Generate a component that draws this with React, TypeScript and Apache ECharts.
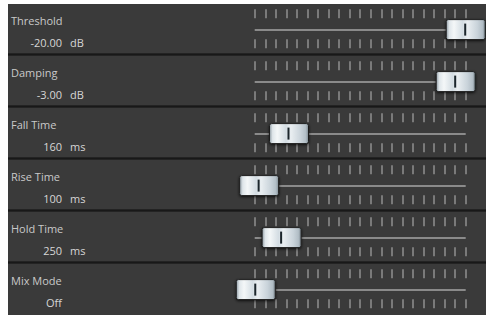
import React, { useEffect, useRef } from "react";
import * as echarts from "echarts";

const labels = ["Threshold", "Damping", "Fall Time", "Rise Time", "Hold Time", "Mix Mode"];
const valueTexts = ["-20.00", "-3.00", "160", "100", "250", "Off"];
const units = ["dB", "dB", "ms", "ms", "ms", ""];
// slider knob position, in tick units (scale has 21 ticks: 0..20)
const sliderPositions = [20, 19.05, 3.25, 0.42, 2.55, 0.1];
const tickMin = 0;
const tickMax = 20;

const W = 486;
const H = 315;
const PANEL_X = 8;
const PANEL_Y = 4;
const ROW_PITCH = 52;
const SLIDER_LEFT = 254.7;
const SLIDER_RIGHT = 465.7;

export default function App() {
  const ref = useRef<HTMLDivElement>(null);
  useEffect(() => {
    document.body.style.margin = "0";
    const chart = echarts.init(ref.current!, null, { renderer: "svg" });
    const grids: any[] = [];
    const xAxes: any[] = [];
    const yAxes: any[] = [];
    const series: any[] = [];
    const graphics: any[] = [];

    graphics.push({
      type: "rect",
      shape: { x: PANEL_X, y: PANEL_Y, width: W - PANEL_X, height: H - PANEL_Y },
      style: { fill: "#3a3a3a" },
      silent: true,
    });

    labels.forEach((label, i) => {
      const rowTop = PANEL_Y + ROW_PITCH * i;
      if (i > 0) {
        graphics.push({
          type: "rect",
          shape: { x: PANEL_X, y: rowTop - 3, width: W - PANEL_X, height: 3 },
          style: { fill: "#232323" },
          silent: true,
        });
        graphics.push({
          type: "rect",
          shape: { x: PANEL_X, y: rowTop - 2, width: W - PANEL_X, height: 1 },
          style: { fill: "#181818" },
          silent: true,
        });
      }
      graphics.push({
        type: "text",
        x: 11,
        y: rowTop + 16,
        style: {
          text: label,
          fill: "#c9c9c9",
          font: "11px 'Open Sans'",
          verticalAlign: "middle",
          align: "left",
        },
      });
      graphics.push({
        type: "text",
        x: 62,
        y: rowTop + 38,
        style: {
          text: valueTexts[i],
          fill: "#d6d6d6",
          font: "11px 'Open Sans'",
          verticalAlign: "middle",
          align: "right",
        },
      });
      if (units[i]) {
        graphics.push({
          type: "text",
          x: 70,
          y: rowTop + 38,
          style: {
            text: units[i],
            fill: "#d6d6d6",
            font: "11px 'Open Sans'",
            verticalAlign: "middle",
            align: "left",
          },
        });
      }

      grids.push({
        left: SLIDER_LEFT,
        width: SLIDER_RIGHT - SLIDER_LEFT,
        top: rowTop + 5.3,
        height: 39,
      });
      const axisBase = {
        type: "value",
        gridIndex: i,
        min: tickMin,
        max: tickMax,
        interval: 1,
        axisLine: { show: false },
        axisLabel: { show: false },
        splitLine: { show: false },
        axisTick: { show: true, inside: true, length: 9, lineStyle: { color: "#7a7a7a", width: 2 } },
      };
      xAxes.push({ ...axisBase, position: "top" });
      xAxes.push({ ...axisBase, position: "bottom" });
      yAxes.push({ type: "value", gridIndex: i, min: 0, max: 39, inverse: true, show: false });

      series.push({
        type: "custom",
        xAxisIndex: i * 2,
        yAxisIndex: i,
        data: [[sliderPositions[i], 0]],
        renderItem: (params: any, api: any) => {
          const v = api.value(0);
          const p0 = api.coord([tickMin, 20.7]);
          const p1 = api.coord([tickMax, 20.7]);
          const c = api.coord([v, 20.3]);
          const kw = 39;
          const kh = 20;
          const kx = c[0] - kw / 2;
          const ky = c[1] - kh / 2;
          return {
            type: "group",
            children: [
              {
                type: "rect",
                shape: { x: p0[0], y: p0[1] - 1, width: p1[0] - p0[0], height: 2 },
                style: { fill: "#8a8a8a" },
              },
              {
                type: "rect",
                shape: { x: kx, y: ky, width: kw, height: kh, r: 2 },
                style: {
                  fill: new echarts.graphic.LinearGradient(0, 0, 1, 0, [
                    { offset: 0, color: "#8f9ba3" },
                    { offset: 0.08, color: "#dfe6ea" },
                    { offset: 0.2, color: "#f4f7f8" },
                    { offset: 0.42, color: "#d4dde3" },
                    { offset: 0.55, color: "#e9eef1" },
                    { offset: 0.8, color: "#c9d3da" },
                    { offset: 0.93, color: "#b2bec6" },
                    { offset: 1, color: "#7f8b93" },
                  ]),
                  stroke: "#1e1e1e",
                  lineWidth: 1,
                  shadowBlur: 3,
                  shadowOffsetY: 1,
                  shadowColor: "rgba(0,0,0,0.7)",
                },
              },
              {
                type: "rect",
                shape: { x: c[0] - 1.5, y: ky + 4, width: 2, height: kh - 8 },
                style: { fill: "#1c262c" },
              },
            ],
          };
        },
      });
    });

    chart.setOption({
      animation: false,
      backgroundColor: "#ffffff",
      grid: grids,
      xAxis: xAxes,
      yAxis: yAxes,
      series,
      graphic: graphics,
    });
    return () => chart.dispose();
  }, []);
  return <div ref={ref} style={{ width: W, height: H }} />;
}
